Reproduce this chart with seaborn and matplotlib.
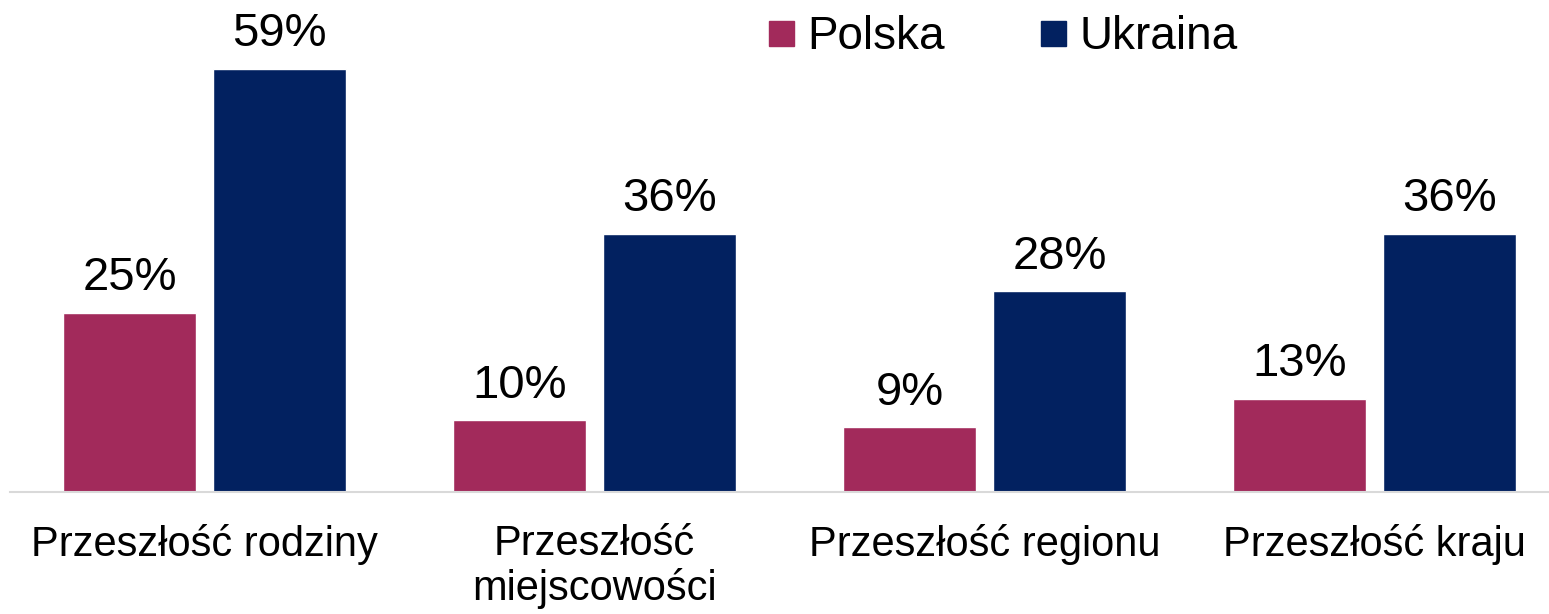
import matplotlib
matplotlib.use("Agg")
import matplotlib.pyplot as plt
import seaborn as sns
import pandas as pd
from matplotlib.lines import Line2D

categories = ["Przeszłość rodziny", "Przeszłość\nmiejscowości", "Przeszłość regionu", "Przeszłość kraju"]
series_names = ["Polska", "Ukraina"]
polska = [25, 10, 9, 13]
ukraina = [59, 36, 28, 36]
colors = ["#A22A5B", "#022160"]

sns.set_theme(style="white")
plt.rcParams['font.family'] = ['Liberation Sans', 'DejaVu Sans']
plt.rcParams['text.color'] = 'black'

df = pd.DataFrame({
    "cat": categories * 2,
    "series": [series_names[0]] * len(categories) + [series_names[1]] * len(categories),
    "val": polska + ukraina,
})

fig = plt.figure(figsize=(15.49, 6.14), dpi=100)
ax = fig.add_axes([10 / 1549, 122 / 614, 1539 / 1549, 492 / 614])

sns.barplot(data=df, x="cat", y="val", hue="series", hue_order=series_names,
            palette=colors, width=0.768, gap=0.112, saturation=1, legend=False, ax=ax)

for c in ax.containers:
    ax.bar_label(c, labels=[f"{v:.0f}%" for v in c.datavalues], padding=9, fontsize=34, color="black")

ax.set_xlim(-0.4987, 3.4474)
ax.set_ylim(0, 68.6)
ax.set_xlabel("")
ax.set_ylabel("")
ax.set_yticks([])
for s in ["left", "right", "top"]:
    ax.spines[s].set_visible(False)
ax.spines["bottom"].set_color("#D9D9D9")
ax.spines["bottom"].set_linewidth(1.5)
ax.tick_params(axis="x", length=0, pad=23, labelsize=30, labelcolor="black")
for t in ax.get_xticklabels():
    t.set_linespacing(1.12)
    t.set_verticalalignment("top")

handles = [Line2D([], [], marker="s", linestyle="none", markersize=18,
                  markerfacecolor=col, markeredgecolor=col) for col in colors]
leg = fig.legend(handles, series_names, loc="center", bbox_to_anchor=(0.6475, 0.94),
                 ncol=2, frameon=False, fontsize=33, handlelength=0.55, handletextpad=0.3,
                 columnspacing=2.1, borderpad=0)
for t in leg.get_texts():
    t.set_color("black")

fig.savefig("out.png", dpi=100)
